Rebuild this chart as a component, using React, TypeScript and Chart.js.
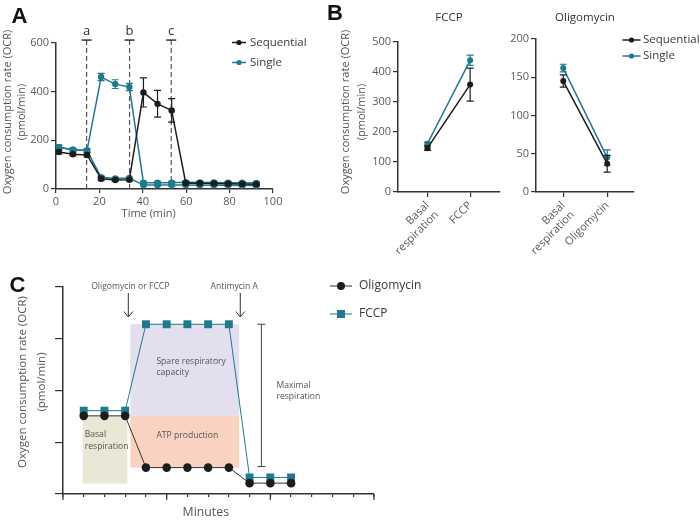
import React, { useEffect, useRef } from "react";
import { Chart, registerables } from "chart.js";

Chart.register(...registerables);

const FONT = "'Open Sans', 'Noto Sans', 'DejaVu Sans', sans-serif";
const LETTER_FONT = "'Liberation Sans', Arial, sans-serif";
const INK = "#1c1c1c";
const TEAL = "#1f7a8f";
const AXIS = "#333333";
const TICK_TXT = "#5a5a5a";
const TITLE_TXT = "#555555";
const LEGEND_TXT = "#3a3a3a";

// ---------------- Panel A ----------------
const timeMin = [1.3, 7.8, 14.3, 20.8, 27.3, 33.8, 40.3, 46.8, 53.3, 59.8, 66.3, 72.8, 79.3, 85.8, 92.3];
const sequentialOCR = [152, 143, 140, 42, 37, 38, 397, 350, 323, 24, 24, 23, 22, 21, 20];
const sequentialErr = [8, 6, 8, 8, 5, 5, 60, 55, 48, 5, 5, 5, 5, 5, 5];
const singleFccpOCR = [172, 161, 158, 460, 431, 419, 26, 26, 26, 28, 27, 27, 26, 26, 25];
const singleFccpErr = [8, 6, 6, 15, 18, 15, 5, 5, 5, 5, 5, 5, 5, 5, 5];
const singleOligoOCR = [172, 161, 158, 48, 43, 45, 16, 16, 16, 16, 15, 15, 15, 14, 14];
const singleOligoErr = [8, 6, 6, 6, 5, 5, 4, 4, 4, 4, 4, 4, 4, 4, 4];
const injectionTimeA = [14.1, 33.9, 53.1];
const injectionLabelA = ["a", "b", "c"];
const injectionTopA = 612;
const timeTicksA = [0, 20, 40, 60, 80, 100];
const ocrTicksA = [0, 200, 400, 600];

// ---------------- Panel B ----------------
const fccpCategories = [["Basal", "respiration"], ["FCCP"]];
const sequentialFccpB = [146, 358];
const sequentialFccpErrB = [7, 55];
const singleFccpB = [161, 439];
const singleFccpErrB = [5, 17];
const fccpTicksB = [0, 100, 200, 300, 400, 500];

const oligoCategories = [["Basal", "respiration"], ["Oligomycin"]];
const sequentialOligoB = [145, 37];
const sequentialOligoErrB = [8, 11];
const singleOligoB = [162, 45];
const singleOligoErrB = [5, 10];
const oligoTicksB = [0, 50, 100, 150, 200];
const categoryIndex = [0, 1];

// ---------------- Panel C ----------------
const minutesC = [1, 2, 3, 4, 5, 6, 7, 8, 9, 10, 11];
const oligomycinC = [1.51, 1.51, 1.51, 0.51, 0.51, 0.51, 0.51, 0.51, 0.21, 0.21, 0.21];
const fccpC = [1.61, 1.61, 1.61, 3.28, 3.28, 3.28, 3.28, 3.28, 0.32, 0.32, 0.32];
const minuteTicksC = [0, 1, 2, 3, 4, 5, 6, 7, 8, 9, 10, 11, 12, 13, 14, 15];
const majorMinuteTicksC = [0, 5, 10, 15];
const ocrTicksC = [0, 1, 2, 3, 4];
const injectionPosC = [3.15, 8.55];
const injectionLabelC = ["Oligomycin or FCCP", "Antimycin A"];
const basalBoxX = [0.95, 3.1];
const basalBoxY = [0.2, 1.51];
const atpBoxX = [3.25, 8.5];
const atpBoxY = [0.51, 1.51];
const spareBoxX = [3.25, 8.5];
const spareBoxY = [1.51, 3.28];
const maximalX = 9.57;
const maximalY = [0.53, 3.28];

// ---------------- helpers ----------------
type Ctx = CanvasRenderingContext2D;

function text(
  ctx: Ctx,
  s: string,
  x: number,
  y: number,
  size: number,
  color: string,
  align: CanvasTextAlign = "left",
  opts: { rotate?: number; weight?: string; family?: string; baseline?: CanvasTextBaseline } = {}
) {
  ctx.save();
  ctx.font = `${opts.weight || "normal"} ${size}px ${opts.family || FONT}`;
  ctx.fillStyle = color;
  ctx.textAlign = align;
  ctx.textBaseline = opts.baseline || "middle";
  ctx.translate(x, y);
  if (opts.rotate) ctx.rotate(opts.rotate);
  ctx.fillText(s, 0, 0);
  ctx.restore();
}

type LegendItem = { label: string; color: string; lineColor: string; shape: "circle" | "rect"; size: number };

function drawLegend(
  ctx: Ctx,
  items: LegendItem[],
  x0: number,
  x1: number,
  textX: number,
  y0: number,
  gap: number,
  fontSize: number,
  lineWidth: number
) {
  items.forEach((it, i) => {
    const y = y0 + i * gap;
    ctx.save();
    ctx.strokeStyle = it.lineColor;
    ctx.lineWidth = lineWidth;
    ctx.beginPath();
    ctx.moveTo(x0, y);
    ctx.lineTo(x1, y);
    ctx.stroke();
    ctx.fillStyle = it.color;
    const cx = (x0 + x1) / 2;
    ctx.beginPath();
    if (it.shape === "circle") ctx.arc(cx, y, it.size, 0, Math.PI * 2);
    else ctx.rect(cx - it.size, y - it.size, it.size * 2, it.size * 2);
    ctx.fill();
    ctx.restore();
    text(ctx, it.label, textX, y, fontSize, LEGEND_TXT, "left");
  });
}

function setTicks(values: number[]) {
  return (scale: any) => {
    scale.ticks = values.map((v) => ({ value: v }));
  };
}

function errorBars(errs: (number[] | null)[], cap: number, width: number) {
  return {
    id: "errorBars",
    afterDatasetDraw(chart: any, args: any) {
      const arr = errs[args.index];
      if (!arr) return;
      const ds = chart.data.datasets[args.index];
      const ys = chart.scales.y;
      const ctx = chart.ctx;
      ctx.save();
      ctx.strokeStyle = ds.borderColor;
      ctx.lineWidth = width;
      args.meta.data.forEach((pt: any, i: number) => {
        const v = ds.data[i].y;
        const t = ys.getPixelForValue(v + arr[i]);
        const b = ys.getPixelForValue(v - arr[i]);
        ctx.beginPath();
        ctx.moveTo(pt.x, t);
        ctx.lineTo(pt.x, b);
        ctx.moveTo(pt.x - cap, t);
        ctx.lineTo(pt.x + cap, t);
        ctx.moveTo(pt.x - cap, b);
        ctx.lineTo(pt.x + cap, b);
        ctx.stroke();
      });
      ctx.restore();
    },
  };
}

const baseGrid = { display: true, drawOnChartArea: false, drawTicks: true, tickLength: 5, color: AXIS, lineWidth: 1.2 };
const baseBorder = { display: true, color: AXIS, width: 1.5 };
const tickFont = { family: FONT, size: 11 };

function lineSet(label: string, xs: number[], ys: number[], color: string, radius: number, width: number, shape = "circle", lineColor?: string) {
  return {
    label,
    data: ys.map((y, i) => ({ x: xs[i], y })),
    borderColor: lineColor || color,
    backgroundColor: color,
    pointBackgroundColor: color,
    pointBorderColor: color,
    pointBorderWidth: 0,
    pointStyle: shape,
    pointRadius: radius,
    borderWidth: width,
    tension: 0,
  };
}

const commonOptions = {
  responsive: false,
  animation: false,
  events: [],
  plugins: { legend: { display: false }, tooltip: { enabled: false }, title: { display: false } },
};

// ---------------- Panel A chart ----------------
const annotationsA = {
  id: "annA",
  beforeDatasetsDraw(chart: any) {
    const { ctx, scales } = chart;
    const { x, y } = scales;
    ctx.save();
    ctx.strokeStyle = "#555";
    ctx.lineWidth = 1.2;
    ctx.setLineDash([5, 3]);
    injectionTimeA.forEach((t) => {
      const px = x.getPixelForValue(t);
      ctx.beginPath();
      ctx.moveTo(px, y.getPixelForValue(0));
      ctx.lineTo(px, y.getPixelForValue(injectionTopA));
      ctx.stroke();
    });
    ctx.restore();
  },
  afterDraw(chart: any) {
    const { ctx, scales } = chart;
    const { x, y } = scales;
    injectionTimeA.forEach((t, i) => {
      const px = x.getPixelForValue(t);
      const py = y.getPixelForValue(injectionTopA);
      ctx.save();
      ctx.strokeStyle = AXIS;
      ctx.lineWidth = 1.5;
      ctx.beginPath();
      ctx.moveTo(px - 5, py);
      ctx.lineTo(px + 5, py);
      ctx.stroke();
      ctx.restore();
      text(ctx, injectionLabelA[i], px, py - 9, 13, "#333", "center");
    });
    text(ctx, "Oxygen consumption rate (OCR)", 8, 112, 11, TITLE_TXT, "center", { rotate: -Math.PI / 2 });
    text(ctx, "(pmol/min)", 22, 112, 11, TITLE_TXT, "center", { rotate: -Math.PI / 2 });
    text(ctx, "Time (min)", 148.7, 214, 11, TITLE_TXT, "center");
    drawLegend(
      ctx,
      [
        { label: "Sequential", color: INK, lineColor: INK, shape: "circle", size: 2.6 },
        { label: "Single", color: TEAL, lineColor: TEAL, shape: "circle", size: 2.6 },
      ],
      232,
      246,
      250,
      42.5,
      20,
      11.5,
      1.5
    );
    text(ctx, "A", 11.5, 22.7, 22, "#111", "left", { weight: "bold", family: LETTER_FONT, baseline: "alphabetic" });
  },
};

function buildA() {
  return {
    type: "line",
    data: {
      datasets: [
        lineSet("Sequential", timeMin, sequentialOCR, INK, 3.2, 1.5),
        lineSet("Single", timeMin, singleFccpOCR, TEAL, 3.2, 1.5),
        lineSet("Single", timeMin, singleOligoOCR, TEAL, 3.2, 1.5),
      ],
    },
    options: {
      ...commonOptions,
      layout: { padding: { left: 0, top: 43, right: 47, bottom: 10 } },
      scales: {
        x: {
          type: "linear",
          min: 0,
          max: 100,
          afterBuildTicks: setTicks(timeTicksA),
          afterFit: (s: any) => {
            s.height = 33;
          },
          grid: { ...baseGrid, tickLength: 4 },
          border: baseBorder,
          ticks: { font: tickFont, color: TICK_TXT, padding: 2 },
        },
        y: {
          type: "linear",
          min: 0,
          max: 600,
          afterBuildTicks: setTicks(ocrTicksA),
          afterFit: (s: any) => {
            s.width = 56;
          },
          grid: baseGrid,
          border: baseBorder,
          ticks: { font: tickFont, color: TICK_TXT, padding: 2 },
        },
      },
    },
    plugins: [errorBars([sequentialErr, singleFccpErr, singleOligoErr], 3.5, 1.2), annotationsA],
  };
}

// ---------------- Panel B charts ----------------
function buildB(
  cats: string[][],
  seq: number[],
  seqErr: number[],
  sing: number[],
  singErr: number[],
  xmin: number,
  xmax: number,
  yTicks: number[],
  padding: any,
  yWidth: number,
  title: string,
  extra: (chart: any) => void
) {
  return {
    type: "line",
    data: {
      datasets: [
        lineSet("Sequential", categoryIndex, seq, INK, 3, 1.5),
        lineSet("Single", categoryIndex, sing, TEAL, 3, 1.5),
      ],
    },
    options: {
      ...commonOptions,
      layout: { padding },
      scales: {
        x: {
          type: "linear",
          min: xmin,
          max: xmax,
          afterBuildTicks: setTicks(categoryIndex),
          afterFit: (s: any) => {
            s.height = 70;
          },
          grid: baseGrid,
          border: baseBorder,
          ticks: {
            font: tickFont,
            color: TICK_TXT,
            padding: 2,
            autoSkip: false,
            minRotation: 45,
            maxRotation: 45,
            callback: (v: number) => cats[v],
          },
        },
        y: {
          type: "linear",
          min: yTicks[0],
          max: yTicks[yTicks.length - 1],
          afterBuildTicks: setTicks(yTicks),
          afterFit: (s: any) => {
            s.width = yWidth;
          },
          grid: baseGrid,
          border: baseBorder,
          ticks: { font: tickFont, color: TICK_TXT, padding: 2 },
        },
      },
    },
    plugins: [
      errorBars([seqErr, singErr], 3.5, 1.2),
      {
        id: "annB",
        afterDraw(chart: any) {
          const { ctx, chartArea } = chart;
          text(ctx, title, (chartArea.left + chartArea.right) / 2, 17.5, 11.5, "#333", "center");
          extra(chart);
        },
      },
    ],
  };
}

function buildB1() {
  return buildB(
    fccpCategories,
    sequentialFccpB,
    sequentialFccpErrB,
    singleFccpB,
    singleFccpErrB,
    -0.69,
    1.7,
    fccpTicksB,
    { left: 0, top: 42, right: 20, bottom: 0 },
    98,
    "FCCP",
    (chart: any) => {
      const ctx = chart.ctx;
      text(ctx, "Oxygen consumption rate (OCR)", 45.7, 112, 11, TITLE_TXT, "center", { rotate: -Math.PI / 2 });
      text(ctx, "(pmol/min)", 61.7, 112, 11, TITLE_TXT, "center", { rotate: -Math.PI / 2 });
      text(ctx, "B", 27, 20, 22, "#111", "left", { weight: "bold", family: LETTER_FONT, baseline: "alphabetic" });
    }
  );
}

function buildB2() {
  return buildB(
    oligoCategories,
    sequentialOligoB,
    sequentialOligoErrB,
    singleOligoB,
    singleOligoErrB,
    -0.62,
    1.61,
    oligoTicksB,
    { left: 0, top: 39, right: 66, bottom: 0 },
    36,
    "Oligomycin",
    (chart: any) => {
      drawLegend(
        chart.ctx,
        [
          { label: "Sequential", color: INK, lineColor: INK, shape: "circle", size: 2.6 },
          { label: "Single", color: TEAL, lineColor: TEAL, shape: "circle", size: 2.6 },
        ],
        122.5,
        140.5,
        143,
        40,
        16,
        11.5,
        1.5
      );
    }
  );
}

// ---------------- Panel C chart ----------------
const annotationsC = {
  id: "annC",
  beforeDatasetsDraw(chart: any) {
    const { ctx, scales } = chart;
    const { x, y } = scales;
    const box = (bx: number[], by: number[], color: string) => {
      const l = x.getPixelForValue(bx[0]);
      const r = x.getPixelForValue(bx[1]);
      const t = y.getPixelForValue(by[1]);
      const b = y.getPixelForValue(by[0]);
      ctx.save();
      ctx.fillStyle = color;
      ctx.fillRect(l, t, r - l, b - t);
      ctx.restore();
    };
    box(basalBoxX, basalBoxY, "#e9e7d6");
    box(atpBoxX, atpBoxY, "#f9d2c2");
    box(spareBoxX, spareBoxY, "#e3dfef");
  },
  afterDraw(chart: any) {
    const { ctx, scales, chartArea } = chart;
    const { x, y } = scales;
    const small = 8.6;
    // major x ticks
    ctx.save();
    ctx.strokeStyle = AXIS;
    ctx.lineWidth = 1.2;
    majorMinuteTicksC.forEach((m) => {
      const px = x.getPixelForValue(m);
      ctx.beginPath();
      ctx.moveTo(px, chartArea.bottom);
      ctx.lineTo(px, chartArea.bottom + 6);
      ctx.stroke();
    });
    ctx.restore();
    // box texts
    const spareL = x.getPixelForValue(spareBoxX[0]) + 26;
    const spareT = y.getPixelForValue(spareBoxY[1]);
    text(ctx, "Spare respiratory", spareL, spareT + 37, small, TITLE_TXT, "left");
    text(ctx, "capacity", spareL, spareT + 48.5, small, TITLE_TXT, "left");
    const atpT = y.getPixelForValue(atpBoxY[1]);
    text(ctx, "ATP production", spareL, atpT + 20, small, TITLE_TXT, "left");
    const basalL = x.getPixelForValue(basalBoxX[0]) + 2;
    const basalT = y.getPixelForValue(basalBoxY[1]);
    text(ctx, "Basal", basalL, basalT + 19, small, TITLE_TXT, "left");
    text(ctx, "respiration", basalL, basalT + 31, small, TITLE_TXT, "left");
    // maximal bracket
    const mx = x.getPixelForValue(maximalX);
    const mt = y.getPixelForValue(maximalY[1]);
    const mb = y.getPixelForValue(maximalY[0]);
    ctx.save();
    ctx.strokeStyle = "#444";
    ctx.lineWidth = 1;
    ctx.beginPath();
    ctx.moveTo(mx, mt);
    ctx.lineTo(mx, mb);
    ctx.moveTo(mx - 4, mt);
    ctx.lineTo(mx + 4, mt);
    ctx.moveTo(mx - 4, mb);
    ctx.lineTo(mx + 4, mb);
    ctx.stroke();
    ctx.restore();
    const mmid = (mt + mb) / 2;
    text(ctx, "Maximal", mx + 15, mmid - 9.5, small, TITLE_TXT, "left");
    text(ctx, "respiration", mx + 15, mmid + 1.5, small, TITLE_TXT, "left");
    // injection arrows
    injectionPosC.forEach((p, i) => {
      const px = x.getPixelForValue(p);
      const top = chartArea.top + 6;
      const tip = chartArea.top + 30;
      ctx.save();
      ctx.strokeStyle = "#333";
      ctx.lineWidth = 1;
      ctx.beginPath();
      ctx.moveTo(px, top);
      ctx.lineTo(px, tip);
      ctx.moveTo(px - 4.5, tip - 5.5);
      ctx.lineTo(px, tip);
      ctx.lineTo(px + 4.5, tip - 5.5);
      ctx.stroke();
      ctx.restore();
      text(ctx, injectionLabelC[i], px + (i === 0 ? 2 : -6), chartArea.top - 0.5, small, TITLE_TXT, "center");
    });
    // titles
    text(ctx, "Oxygen consumption rate (OCR)", 23, 122, 11.5, TITLE_TXT, "center", { rotate: -Math.PI / 2 });
    text(ctx, "(pmol/min)", 42, 122, 11.5, TITLE_TXT, "center", { rotate: -Math.PI / 2 });
    text(ctx, "Minutes", 205.8, 252.7, 12.3, TITLE_TXT, "center");
    drawLegend(
      ctx,
      [
        { label: "Oligomycin", color: INK, lineColor: "#333", shape: "circle", size: 4 },
        { label: "FCCP", color: TEAL, lineColor: TEAL, shape: "rect", size: 4 },
      ],
      330,
      352,
      359,
      26,
      28,
      12,
      1
    );
    text(ctx, "C", 9.5, 32, 22, "#111", "left", { weight: "bold", family: LETTER_FONT, baseline: "alphabetic" });
  },
};

function buildC() {
  return {
    type: "line",
    data: {
      datasets: [
        lineSet("Oligomycin", minutesC, oligomycinC, INK, 4.3, 1, "circle", "#333"),
        lineSet("FCCP", minutesC, fccpC, TEAL, 5.6, 1, "rect"),
      ],
    },
    options: {
      ...commonOptions,
      layout: { padding: { left: 13, top: 27, right: 326, bottom: 0 } },
      scales: {
        x: {
          type: "linear",
          min: 0,
          max: 15,
          afterBuildTicks: setTicks(minuteTicksC),
          afterFit: (s: any) => {
            s.height = 27;
          },
          grid: { ...baseGrid, tickLength: 3 },
          border: baseBorder,
          ticks: { display: false },
        },
        y: {
          type: "linear",
          min: 0,
          max: 4,
          afterBuildTicks: setTicks(ocrTicksC),
          afterFit: (s: any) => {
            s.width = 50;
          },
          grid: { ...baseGrid, tickLength: 8 },
          border: baseBorder,
          ticks: { display: false },
        },
      },
    },
    plugins: [annotationsC],
  };
}

// ---------------- components ----------------
function ChartCanvas({ x, y, w, h, build }: { x: number; y: number; w: number; h: number; build: () => any }) {
  const ref = useRef<HTMLCanvasElement | null>(null);
  useEffect(() => {
    if (!ref.current) return;
    const chart = new Chart(ref.current, build());
    return () => chart.destroy();
  }, []);
  return (
    <canvas
      ref={ref}
      width={w}
      height={h}
      style={{ position: "absolute", left: x, top: y, width: w, height: h, display: "block" }}
    />
  );
}

export default function App() {
  return (
    <div
      style={{
        position: "absolute",
        left: 0,
        top: 0,
        width: 700,
        height: 521,
        background: "#ffffff",
        overflow: "hidden",
      }}
    >
      <ChartCanvas x={0} y={0} w={320} h={232} build={buildA} />
      <ChartCanvas x={300} y={0} w={220} h={262} build={buildB1} />
      <ChartCanvas x={500} y={0} w={200} h={262} build={buildB2} />
      <ChartCanvas x={0} y={260} w={700} h={261} build={buildC} />
    </div>
  );
}
